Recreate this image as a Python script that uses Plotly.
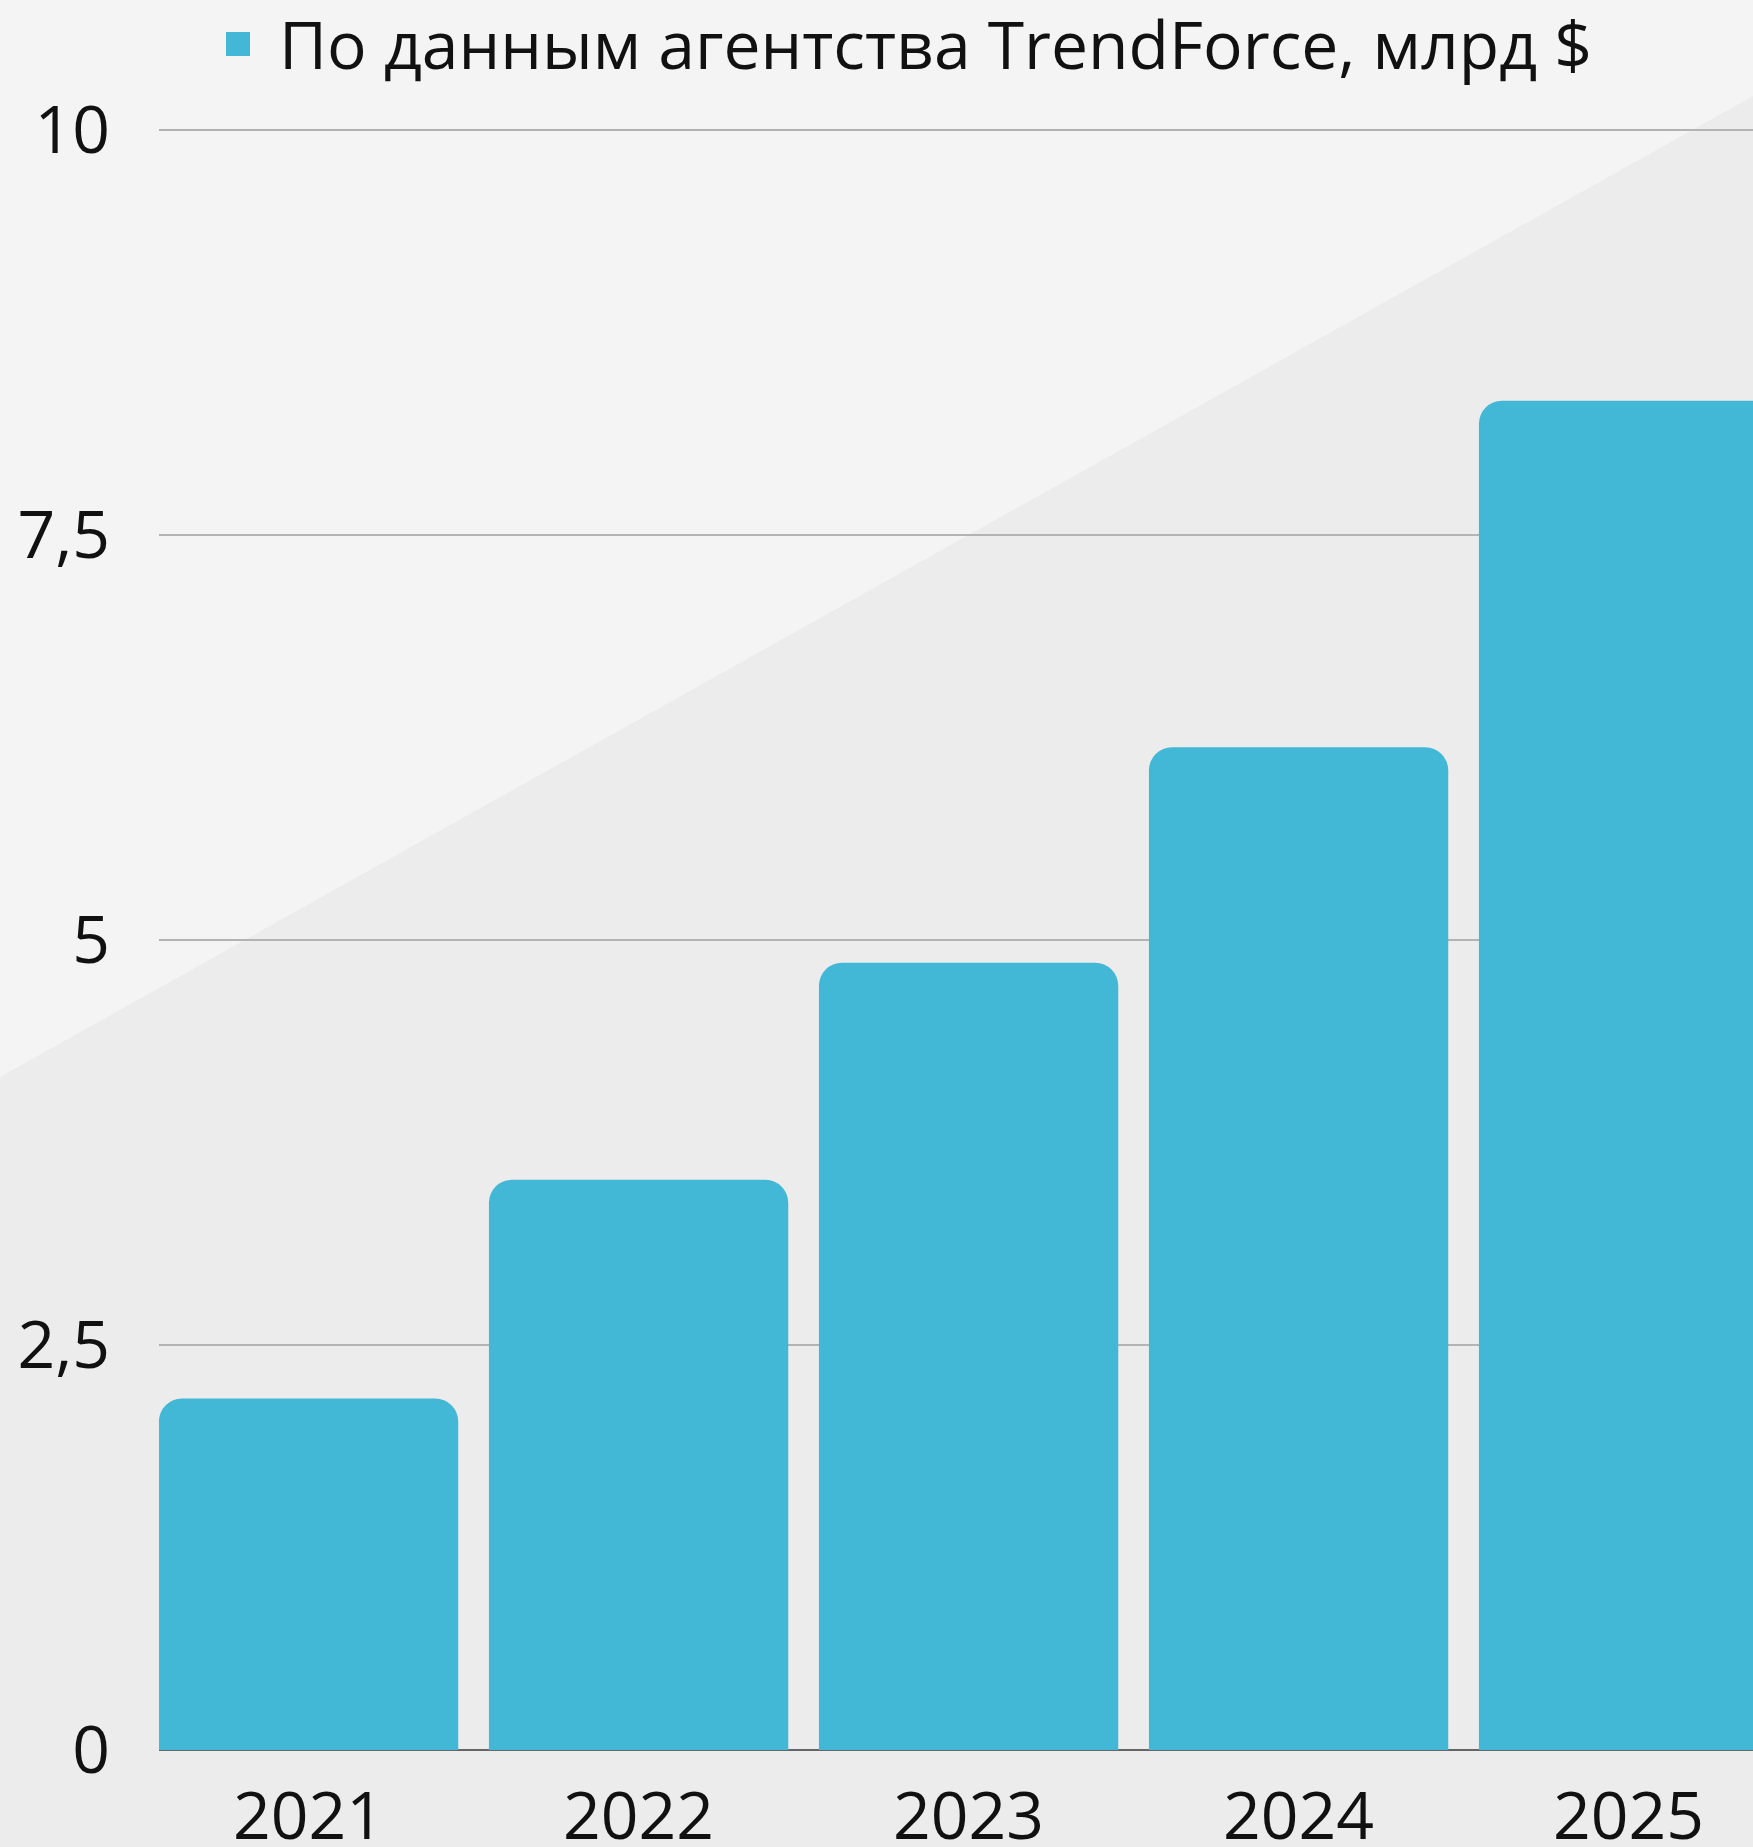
import plotly.graph_objects as go

years = ["2021", "2022", "2023", "2024", "2025"]
values = [2.17, 3.52, 4.86, 6.19, 8.33]
series_name = "По данным агентства TrendForce, млрд $"
y_tickvals = [0, 2.5, 5, 7.5, 10]
y_ticktext = ["0", "2,5", "5", "7,5", "10"]

W, H = 1753, 1847
ML, MR, MT, MB = 159, 0, 127, 97
Y_TOP = 10.02
FONT = "Open Sans"
BAR = "#42B7D6"
TXT = "#111111"

fig = go.Figure()
fig.add_trace(go.Bar(
    x=years, y=values, name=series_name,
    marker=dict(color=BAR, line=dict(width=0)),
    showlegend=True,
))

pw = W - ML - MR
ph = H - MT - MB
def px_to_paper(X, Y):
    return (X - ML) / pw, (H - MB - Y) / ph

# diagonal background band (darker area below a rising line)
x0, y0 = px_to_paper(0, 1077)
x1, y1 = px_to_paper(W, 96)
xb0, yb0 = px_to_paper(0, H + 5)
xb1, yb1 = px_to_paper(W, H + 5)
path = f"M {x0},{y0} L {x1},{y1} L {xb1},{yb1} L {xb0},{yb0} Z"
fig.add_shape(type="path", path=path, xref="paper", yref="paper",
              fillcolor="#ECECEC", line=dict(width=0), layer="below")

# enlarged legend swatch (sits under the legend's own symbol)
sx0, sy0 = px_to_paper(226, 56)
sx1, sy1 = px_to_paper(250, 32)
fig.add_shape(type="rect", x0=sx0, y0=sy0, x1=sx1, y1=sy1,
              xref="paper", yref="paper",
              fillcolor=BAR, line=dict(width=0), layer="above")

fig.update_layout(
    width=W, height=H,
    margin=dict(l=ML, r=MR, t=MT, b=MB, pad=0, autoexpand=False),
    paper_bgcolor="#F4F4F4",
    plot_bgcolor="rgba(0,0,0,0)",
    font=dict(family=FONT, size=66, color=TXT),
    bargap=0.093,
    barcornerradius=23,
    showlegend=True,
    legend=dict(
        orientation="h", xref="container", yref="container",
        x=195 / W, y=1 - 43 / H, xanchor="left", yanchor="middle",
        itemwidth=74,
        font=dict(family=FONT, size=66, color=TXT),
        bgcolor="rgba(0,0,0,0)",
    ),
    xaxis=dict(
        type="category", range=[-0.4533, 4.377],
        showgrid=False, showline=False, zeroline=False,
        ticks="", ticklabelstandoff=22, automargin=False,
        tickfont=dict(family=FONT, size=66, color=TXT),
        fixedrange=True,
    ),
    yaxis=dict(
        range=[0, Y_TOP], tickvals=y_tickvals, ticktext=y_ticktext,
        showgrid=True, gridcolor="#B3B3B3", gridwidth=2,
        zeroline=True, zerolinecolor="#666666", zerolinewidth=2,
        showline=False, ticks="", ticklabelstandoff=48, automargin=False,
        tickfont=dict(family=FONT, size=66, color=TXT),
        fixedrange=True,
    ),
)

fig.write_html(
    "out.html",
    config={"displayModeBar": False},
    post_script="document.body.style.margin='0';document.body.style.overflow='hidden';",
)
